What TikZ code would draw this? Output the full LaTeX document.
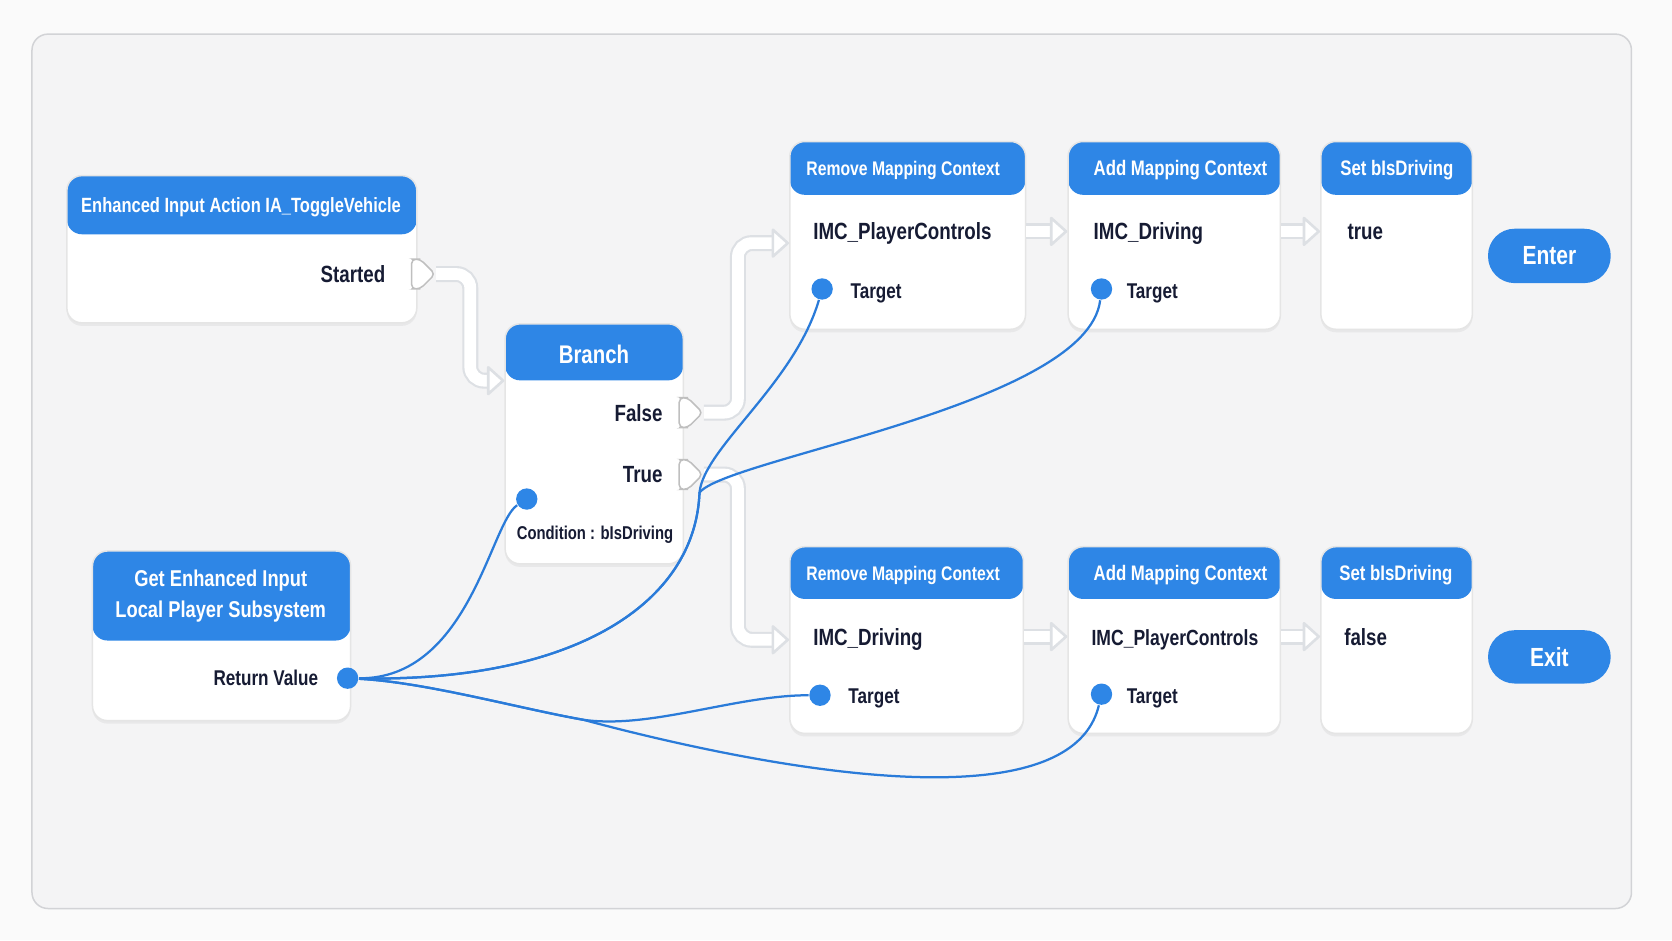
\documentclass[tikz,border=0pt]{standalone}
\usepackage{fontspec}
\setmainfont{Liberation Sans}[FakeStretch=0.8]
\usetikzlibrary{calc,shapes.symbols,arrows.meta,shadows}

\definecolor{canvas}{HTML}{FAFAFA}
\definecolor{panel}{HTML}{F4F4F5}
\definecolor{panelline}{HTML}{D2D3D6}
\definecolor{hdrblue}{HTML}{2E86E6}
\definecolor{wireblue}{HTML}{2A7BD9}
\definecolor{ink}{HTML}{161B33}
\definecolor{execline}{HTML}{DDE0E4}

\tikzset{
  bpnode/.style={draw=black!10, fill=white, rounded corners=4pt, inner sep=0pt, anchor=north west,
    drop shadow={shadow xshift=0pt, shadow yshift=-0.8pt, opacity=0.10},
    path picture={\fill[hdrblue] (path picture bounding box.north west) rectangle ($(path picture bounding box.north east)+(0,#1)$);}},
  hdrtxt/.style={text=white, inner sep=0pt, font=\bfseries\fontsize{5.6}{6.5}\selectfont, text height=4pt, text depth=0pt},
  bigtxt/.style={text=white, inner sep=0pt, font=\bfseries\fontsize{6.8}{8}\selectfont, text height=4.9pt, text depth=0pt},
  lbl/.style={text=ink, inner sep=0pt, font=\bfseries\fontsize{6.25}{7}\selectfont, text height=4.5pt, text depth=0pt},
  smalllbl/.style={text=ink, inner sep=0pt, font=\bfseries\fontsize{5.7}{6.5}\selectfont, text height=4.1pt, text depth=0pt},
  execpin/.style={shape=signal, signal to=east, signal pointer angle=90, draw=black!25, fill=white,
    rounded corners=1.2pt, minimum width=0.22cm, minimum height=0.28cm, inner sep=0pt},
  datapin/.style={circle, fill=hdrblue, minimum size=0.2cm, inner sep=0pt},
  execwire/.style={white, line width=0.11cm, rounded corners=0.13cm,
    -{Triangle[length=0.17cm, width=0.3cm, fill=white, color=execline, line width=0.7pt, round]},
    preaction={draw=execline, line width=0.15cm, shorten >=0.12cm, -}},
  wire/.style={wireblue, line width=0.6pt},
  pill/.style={fill=hdrblue, rounded corners=0.25cm, text=white, inner sep=0pt,
    font=\bfseries\fontsize{7}{8}\selectfont, minimum width=1.15cm, minimum height=0.51cm}
}

\begin{document}
\begin{tikzpicture}[x=0.01cm, y=-0.01cm]
  \fill[canvas] (0,0) rectangle (1568,882);
  \useasboundingbox (0,0) rectangle (1568,882);
  \draw[panelline, fill=panel, rounded corners=0.15cm] (30,32) rectangle (1530,852);

  \node[bpnode=55, minimum width=3.28cm, minimum height=1.38cm] (action) at (62,164) {};
  \node[hdrtxt, font=\bfseries\fontsize{5.5}{6.5}\selectfont] (actiontitle) at (226,192) {Enhanced Input Action IA\_ToggleVehicle};
  \node[lbl, anchor=east] (startedlbl) at (362,257) {Started};
  \node[execpin] (startedpin) at (390,257) {};

  \node[bpnode=53, minimum width=1.67cm, minimum height=2.25cm] (branch) at (473,303) {};
  \node[bigtxt] (branchtitle) at (557,332) {Branch};
  \node[lbl, anchor=east] (falselbl) at (622,387) {False};
  \node[lbl, anchor=east] (truelbl) at (622,445) {True};
  \node[execpin] (falsepin) at (641,387) {};
  \node[execpin] (truepin) at (641,445) {};
  \node[datapin] (condpin) at (494,468) {};
  \node[smalllbl, font=\bfseries\fontsize{4.95}{6}\selectfont] (condlbl) at (558,499) {Condition : bIsDriving};

  \node[bpnode=84, minimum width=2.42cm, minimum height=1.59cm] (getsub) at (86,516) {};
  \node[text=white, inner sep=0pt, align=center, font=\bfseries\fontsize{6.1}{8.2}\selectfont] (getsubtitle) at (207,559) {Get Enhanced Input\\Local Player Subsystem};
  \node[smalllbl, anchor=east] (retlbl) at (299,636) {Return Value};
  \node[datapin] (retpin) at (326,636) {};

  \node[bpnode=50, minimum width=2.21cm, minimum height=1.76cm] (rmA) at (740,132) {};
  \node[hdrtxt, font=\bfseries\fontsize{5.25}{6.5}\selectfont] (rmAtitle) at (847,158) {Remove Mapping Context};
  \node[lbl, anchor=west] (rmAval) at (762,217) {IMC\_PlayerControls};
  \node[datapin] (rmApin) at (771,271) {};
  \node[smalllbl, anchor=west] (rmAtgt) at (797,273) {Target};

  \node[bpnode=50, minimum width=1.99cm, minimum height=1.76cm] (amA) at (1001,132) {};
  \node[hdrtxt] (amAtitle) at (1107,158) {Add Mapping Context};
  \node[lbl, anchor=west] (amAval) at (1025,217) {IMC\_Driving};
  \node[datapin] (amApin) at (1033,271) {};
  \node[smalllbl, anchor=west] (amAtgt) at (1056,273) {Target};

  \node[bpnode=50, minimum width=1.42cm, minimum height=1.76cm] (setA) at (1238,132) {};
  \node[hdrtxt] (setAtitle) at (1310,158) {Set bIsDriving};
  \node[lbl, anchor=west] (setAval) at (1263,217) {true};

  \node[bpnode=49, minimum width=2.19cm, minimum height=1.75cm] (rmB) at (740,512) {};
  \node[hdrtxt, font=\bfseries\fontsize{5.25}{6.5}\selectfont] (rmBtitle) at (847,537) {Remove Mapping Context};
  \node[lbl, anchor=west] (rmBval) at (762,597) {IMC\_Driving};
  \node[datapin] (rmBpin) at (769,652) {};
  \node[smalllbl, anchor=west] (rmBtgt) at (795,653) {Target};

  \node[bpnode=49, minimum width=1.99cm, minimum height=1.75cm] (amB) at (1001,512) {};
  \node[hdrtxt] (amBtitle) at (1107,537) {Add Mapping Context};
  \node[lbl, anchor=west, font=\bfseries\fontsize{5.85}{7}\selectfont] (amBval) at (1023,597) {IMC\_PlayerControls};
  \node[datapin] (amBpin) at (1033,651) {};
  \node[smalllbl, anchor=west] (amBtgt) at (1056,653) {Target};

  \node[bpnode=49, minimum width=1.42cm, minimum height=1.75cm] (setB) at (1238,512) {};
  \node[hdrtxt] (setBtitle) at (1309,537) {Set bIsDriving};
  \node[lbl, anchor=west] (setBval) at (1260,597) {false};

  \node[pill] (enter) at (1453,240) {Enter};
  \node[pill, minimum height=0.5cm] (exit) at (1453,616) {Exit};

  \draw[execwire] (startedpin.east) -- ++(32,0) |- ($(branch.north west)+(0,54)$);
  \draw[execwire] (falsepin.east) -- ++(32,0) |- ($(rmA.north west)+(0,96)$);
  \draw[execwire] (truepin.east) -- ++(32,0) |- ($(rmB.north west)+(0,88)$);
  \draw[execwire] ($(rmA.north east)+(0,85)$) -- ($(amA.north west)+(0,85)$);
  \draw[execwire] ($(amA.north east)+(0,85)$) -- ($(setA.north west)+(0,85)$);
  \draw[execwire] ($(rmB.north east)+(0,85)$) -- ($(amB.north west)+(0,85)$);
  \draw[execwire] ($(amB.north east)+(0,85)$) -- ($(setB.north west)+(0,85)$);

  \coordinate (upsplit) at (656,462);
  \coordinate (lowsplit) at (547,675);
  \draw[wire] (retpin) .. controls (440,637) and (460,490) .. (condpin);
  \draw[wire] (retpin) .. controls (540,640) and (652,565) .. (upsplit) .. controls (660,420) and (745,360) .. (rmApin);
  \draw[wire] (retpin) .. controls (540,640) and (652,565) .. (upsplit) .. controls (680,430) and (1020,380) .. (amApin);
  \draw[wire] (retpin) .. controls (400,640) and (485,664) .. (lowsplit) .. controls (610,684) and (690,652) .. (rmBpin);
  \draw[wire] (retpin) .. controls (400,640) and (485,664) .. (lowsplit) .. controls (640,700) and (1000,790) .. (amBpin);
\end{tikzpicture}
\end{document}
